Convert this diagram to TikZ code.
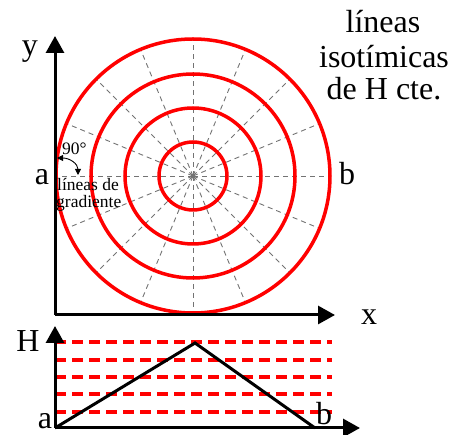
\documentclass[tikz,border=0pt]{standalone}
\usepackage{fontspec}
\setmainfont{Liberation Serif}
\usetikzlibrary{arrows.meta}

\tikzset{
  axis/.style={line width=3pt, -{Triangle[length=17pt,width=18pt]}},
  isoline/.style={red, line width=3.5pt},
  gradline/.style={black!55, line width=0.9pt, dash pattern=on 5pt off 4pt},
  hline/.style={red, line width=4pt, dash pattern=on 11pt off 6pt},
  biglabel/.style={font=\fontsize{32}{33}\selectfont, inner sep=0pt, anchor=base},
  smalllabel/.style={font=\fontsize{17.5}{18}\selectfont, inner sep=0pt, anchor=base west},
}

\begin{document}
\begin{tikzpicture}[x=1pt, y=-1pt]
    \useasboundingbox (0,0) rectangle (459,435);

    % Top plot: origin, axis ends and centre
    \coordinate (O) at (55,315);
    \coordinate (ytip) at (55,36);
    \coordinate (xtip) at (335,315);
    \coordinate (C) at (193,176);

    % Gradient lines (radial, dashed)
    \foreach \ang in {0,22.5,...,337.5}
        \draw[gradline] (C) -- ++(\ang:137);

    % Isotimic lines (circles of constant H)
    \foreach \r in {34,68,102,137}
        \draw[isoline] (C) circle[radius=\r pt];

    % Axes
    \draw[axis] (O) -- (ytip);
    \draw[axis] (O) -- (xtip);

    % Axis labels
    \node[biglabel] (ylab) at (30,56) {y};
    \node[biglabel] (xlab) at (369,325) {x};
    \node[biglabel] (alab) at (42,185) {a};
    \node[biglabel] (blab) at (347,185) {b};

    % Title
    \node[biglabel] (title1) at (383,33) {líneas};
    \node[biglabel] (title2) at (384,68) {isotímicas};
    \node[biglabel] (title3) at (384,100) {de H cte.};

    % 90 degree mark between axis and gradient line
    \coordinate (g1) at (57,158);
    \coordinate (g2) at (78,175);
    \draw[line width=0.9pt, {Triangle[length=6pt,width=6pt]}-{Triangle[length=6pt,width=6pt]}]
        (g1) .. controls (70,158) and (78,164) .. (g2);
    \node[smalllabel] (ang) at (62,155) {90°};
    \node[smalllabel] (grad1) at (57,191) {líneas de};
    \node[smalllabel] (grad2) at (56,208) {gradiente};

    % Bottom plot: H along the line a-b
    \coordinate (O2) at (55,428);
    \coordinate (Htip) at (55,326);
    \coordinate (x2tip) at (360,428);
    \foreach \h in {342,360,377,394,412}
        \draw[hline] (55,\h) -- (332,\h);
    \coordinate (pa) at (55,428);
    \coordinate (peak) at (195,343);
    \coordinate (pb) at (315,428);
    \draw[line width=3pt] (pa) -- (peak) -- (pb);
    \draw[axis] (O2) -- (Htip);
    \draw[axis] (O2) -- (x2tip);

    \node[biglabel] (Hlab) at (28,352) {H};
    \node[biglabel] (a2lab) at (45,429) {a};
    \node[biglabel] (b2lab) at (324,425) {b};
\end{tikzpicture}
\end{document}
